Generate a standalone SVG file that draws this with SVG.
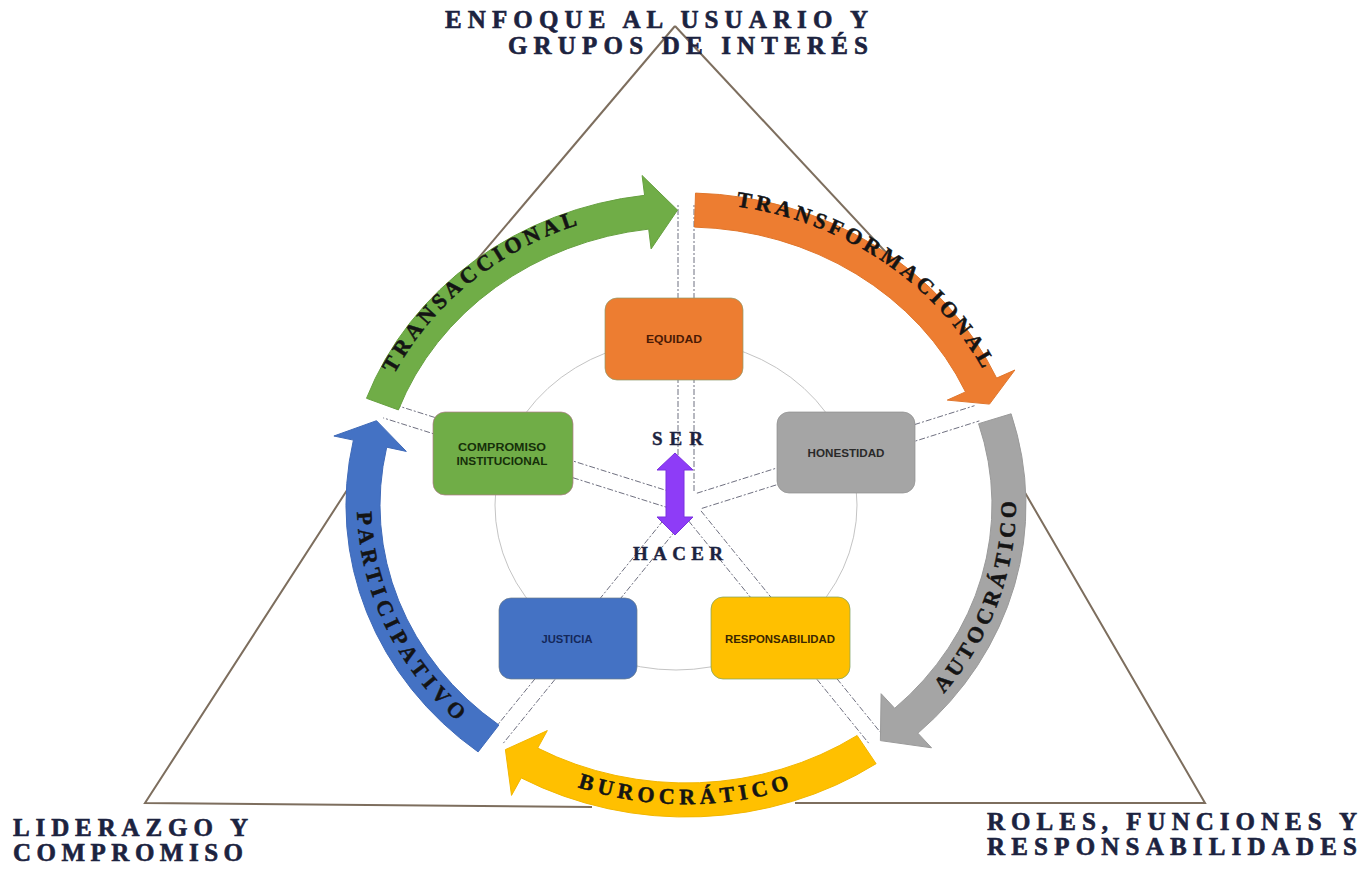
<svg xmlns="http://www.w3.org/2000/svg" width="1364" height="870" viewBox="0 0 1364 870">
<defs>
<style>
.lbl{font-family:"Liberation Serif","Times New Roman",serif;font-weight:bold;font-size:25px;fill:#1c2340;stroke:#1c2340;stroke-width:0.6}
.mid{font-family:"Liberation Serif","Times New Roman",serif;font-weight:bold;font-size:19px;fill:#1c2340;stroke:#1c2340;stroke-width:0.4}
.arc{font-family:"Liberation Serif","Times New Roman",serif;font-weight:bold;font-size:22px;fill:#141414;stroke:#141414;stroke-width:0.5}
.bt{font-family:"Liberation Sans",Arial,sans-serif;font-weight:bold;font-size:10px;text-anchor:middle}
.ray{stroke:#6f7080;stroke-width:1;stroke-dasharray:6 2 2 2;fill:none}
.tri{stroke:#7d6e5e;stroke-width:2;fill:none}
.box{stroke-width:1;stroke-opacity:0.7}
.arr{stroke-width:1}
</style>
<path id="pTransac" d="M 380.6 403.4 A 325 297 0 0 1 612.9 215.6"/>
<path id="pTransf" d="M 709.2 203.7 A 332 302 0 0 1 996 396.8"/>
<path id="pAuto" d="M 931.2 707.1 A 332 304 0 0 0 1014.7 478.7"/>
<path id="pBuro" d="M 522.5 763.9 A 327 301 0 0 0 849.5 763.9"/>
<path id="pPart" d="M 357.8 484 A 331 303 0 0 0 483.4 742.2"/>
</defs>
<rect width="1364" height="870" fill="#ffffff"/>

<g id="triangle">
<polyline class="tri" points="675,26 470,268"/>
<polyline class="tri" points="675,26 895,262"/>
<polyline class="tri" points="351,484 145,803 592,807"/>
<polyline class="tri" points="1020,484 1205,803 795,803"/>
</g>

<g id="inner-circle">
<ellipse cx="676" cy="505" rx="181" ry="165" fill="none" stroke="#c4c4c4" stroke-width="1"/>
</g>

<g id="connectors">
<line class="ray" x1="678" y1="491" x2="678" y2="205"/>
<line class="ray" x1="694" y1="491" x2="694" y2="205"/>
<line class="ray" x1="701.8" y1="508.4" x2="979.3" y2="420.9"/>
<line class="ray" x1="696.9" y1="493.2" x2="974.5" y2="405.7"/>
<line class="ray" x1="675.1" y1="493.2" x2="388" y2="402.7"/>
<line class="ray" x1="670.2" y1="508.4" x2="383.2" y2="417.9"/>
<line class="ray" x1="671" y1="510.9" x2="491" y2="733.1"/>
<line class="ray" x1="683.4" y1="520.9" x2="503.4" y2="743.1"/>
<line class="ray" x1="688.6" y1="520.9" x2="868.6" y2="743.1"/>
<line class="ray" x1="701" y1="510.9" x2="881" y2="733.1"/>
</g>

<g id="equidad">
<rect class="box" x="605" y="298" width="138" height="82" rx="12" fill="#ED7D31" stroke="#8f9a6a"/>
<text class="bt" x="674" y="343" fill="#4a1a05" textLength="56" lengthAdjust="spacingAndGlyphs">EQUIDAD</text>
</g>
<g id="compromiso">
<rect class="box" x="433" y="412" width="140" height="83" rx="12" fill="#70AD47" stroke="#b07a8a"/>
<text class="bt" x="502" y="451" fill="#16300a" textLength="88" lengthAdjust="spacingAndGlyphs">COMPROMISO</text>
<text class="bt" x="502" y="465" fill="#16300a" textLength="91" lengthAdjust="spacingAndGlyphs">INSTITUCIONAL</text>
</g>
<g id="honestidad">
<rect class="box" x="777" y="412" width="138" height="81" rx="12" fill="#A5A5A5" stroke="#909090"/>
<text class="bt" x="846" y="457" fill="#2a2a2a" textLength="77" lengthAdjust="spacingAndGlyphs">HONESTIDAD</text>
</g>
<g id="justicia">
<rect class="box" x="499" y="598" width="138" height="81" rx="12" fill="#4472C4" stroke="#6a7a8a"/>
<text class="bt" x="567" y="643" fill="#14285a" textLength="51" lengthAdjust="spacingAndGlyphs">JUSTICIA</text>
</g>
<g id="responsabilidad">
<rect class="box" x="711" y="597" width="139" height="82" rx="12" fill="#FFC000" stroke="#7aa060"/>
<text class="bt" x="780" y="643" fill="#3a2600" textLength="110" lengthAdjust="spacingAndGlyphs">RESPONSABILIDAD</text>
</g>

<g id="arrow-transaccional">
<path class="arr" fill="#70AD47" stroke="#66a040" d="M 366.5 398.3 A 340 312 0 0 1 644.6 195.3 L 642.1 175.5 L 677.5 210.1 L 651.1 248.9 L 648.7 229.1 A 306 278 0 0 0 398.4 409.9 Z"/>
<text class="arc" letter-spacing="4"><textPath href="#pTransac" startOffset="50%" text-anchor="middle">TRANSACCIONAL</textPath></text>
</g>
<g id="arrow-transformacional">
<path class="arr" fill="#ED7D31" stroke="#e0762c" d="M 695.5 193.1 A 340 312 0 0 1 996.6 378.1 L 1014.9 370 L 989.5 404.1 L 947.3 400.1 L 965.5 391.9 A 306 278 0 0 0 694.5 227.1 Z"/>
<text class="arc" letter-spacing="4"><textPath href="#pTransf" startOffset="50%" text-anchor="middle">TRANSFORMACIONAL</textPath></text>
</g>
<g id="arrow-autocratico">
<path class="arr" fill="#A5A5A5" stroke="#9a9a9a" d="M 1011.1 413.8 A 340 312 0 0 1 917.9 733.2 L 931.5 747.8 L 880.4 740.6 L 881.1 693.7 L 894.7 708.3 A 306 278 0 0 0 978.6 423.7 Z"/>
<text class="arc" letter-spacing="4.3"><textPath href="#pAuto" startOffset="50%" text-anchor="middle">AUTOCRÁTICO</textPath></text>
</g>
<g id="arrow-burocratico">
<path class="arr" fill="#FFC000" stroke="#f2b600" d="M 876.1 763.7 A 340 312 0 0 1 521.2 777.9 L 511.5 795.4 L 505.4 749.6 L 547.3 730.6 L 537.7 748.1 A 306 278 0 0 0 857.1 735.5 Z"/>
<text class="arc" letter-spacing="4.8"><textPath href="#pBuro" startOffset="50%" text-anchor="middle">BUROCRÁTICO</textPath></text>
</g>
<g id="arrow-participativo">
<path class="arr" fill="#4472C4" stroke="#3f6ab8" d="M 478.1 751.9 A 340 312 0 0 1 353.4 440.1 L 333.9 436 L 376.5 420.7 L 406.3 451.4 L 386.7 447.2 A 306 278 0 0 0 498.9 725 Z"/>
<text class="arc" letter-spacing="5.5"><textPath href="#pPart" startOffset="50%" text-anchor="middle">PARTICIPATIVO</textPath></text>
</g>

<g id="ser-hacer">
<polygon points="675,453 693,470 684,470 684,517 693,517 675,535 657,517 666,517 666,470 657,470" fill="#8E3CF7" stroke="#7a30e0" stroke-width="1"/>
<text class="mid" x="652" y="445" textLength="51" lengthAdjust="spacing">SER</text>
<text class="mid" x="633" y="560" textLength="90" lengthAdjust="spacing">HACER</text>
</g>

<g id="labels">
<text class="lbl" x="445" y="28" textLength="423" lengthAdjust="spacing">ENFOQUE AL USUARIO Y</text>
<text class="lbl" x="508" y="54" textLength="360" lengthAdjust="spacing">GRUPOS DE INTERÉS</text>
<text class="lbl" x="13" y="836" textLength="235" lengthAdjust="spacing">LIDERAZGO Y</text>
<text class="lbl" x="13" y="861" textLength="230" lengthAdjust="spacing">COMPROMISO</text>
<text class="lbl" x="987" y="830" textLength="370" lengthAdjust="spacing">ROLES, FUNCIONES Y</text>
<text class="lbl" x="987" y="855" textLength="370" lengthAdjust="spacing">RESPONSABILIDADES</text>
</g>
</svg>
